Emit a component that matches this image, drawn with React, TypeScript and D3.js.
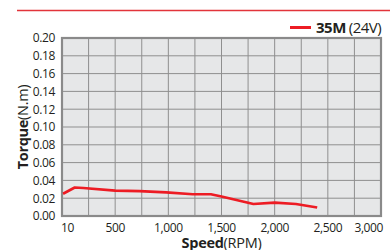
import * as d3 from 'd3'
import { useEffect, useRef } from 'react'

// speed (RPM) vs torque (N.m)
const speeds = [10, 120, 200, 500, 730, 980, 1230, 1400, 1500, 1800, 2000, 2200, 2400]
const torques = [0.025, 0.032, 0.0315, 0.0285, 0.028, 0.0265, 0.0245, 0.0245, 0.022, 0.0135, 0.015, 0.0135, 0.0095]
const xTicks = [10, 500, 1000, 1500, 2000, 2500, 3000]
const yTicks = [0, 0.02, 0.04, 0.06, 0.08, 0.1, 0.12, 0.14, 0.16, 0.18, 0.2]
const seriesName = '35M'
const seriesNote = '(24V)'

const width = 390, height = 250
const left = 62, right = 381, top = 38, bottom = 216
const font = '"Open Sans", sans-serif'

const chart = (node: SVGSVGElement) => {
  const svg = d3.select(node)
  svg.selectAll('*').remove()

  const x = d3.scaleLinear().domain([0, 3000]).range([left, right])
  const y = d3.scaleLinear().domain([0, 0.2]).range([bottom, top])

  // header rule
  svg.append('line')
    .attr('x1', 17).attr('x2', width).attr('y1', 10.5).attr('y2', 10.5)
    .attr('stroke', '#e2343b').attr('stroke-width', 1.5)

  // legend
  svg.append('line')
    .attr('x1', 290).attr('x2', 311).attr('y1', 27.5).attr('y2', 27.5)
    .attr('stroke', '#ed1c24').attr('stroke-width', 3)
  const lt = svg.append('text')
    .attr('x', 316).attr('y', 32.5)
    .attr('font-family', font).attr('font-size', 15).attr('fill', '#231f20')
    .attr('letter-spacing', -0.5)
  lt.append('tspan').attr('font-weight', 'bold').text(seriesName)
  lt.append('tspan').attr('dx', 3).text(seriesNote)

  // plot background
  svg.append('rect')
    .attr('x', left).attr('y', top)
    .attr('width', right - left).attr('height', bottom - top)
    .attr('fill', '#e6e7e8')

  const grid = svg.append('g').attr('stroke', '#8f8f8f').attr('stroke-width', 1)
  grid.selectAll('line.v')
    .data(d3.range(0, 3001, 250))
    .join('line')
    .attr('class', 'v')
    .attr('x1', d => x(d)).attr('x2', d => x(d))
    .attr('y1', top).attr('y2', bottom)
  grid.selectAll('line.h')
    .data(yTicks)
    .join('line')
    .attr('class', 'h')
    .attr('x1', left).attr('x2', right)
    .attr('y1', d => y(d)).attr('y2', d => y(d))

  svg.append('rect')
    .attr('x', left).attr('y', top)
    .attr('width', right - left).attr('height', bottom - top)
    .attr('fill', 'none').attr('stroke', '#8a8a8a').attr('stroke-width', 2.2)

  // series line
  const pts = speeds.map((s, i) => [s, torques[i]] as [number, number])
  svg.append('path')
    .datum(pts)
    .attr('fill', 'none')
    .attr('stroke', '#ed1c24')
    .attr('stroke-width', 2.6)
    .attr('stroke-linejoin', 'round')
    .attr('d', d3.line<[number, number]>().x(d => x(d[0])).y(d => y(d[1])))

  // y ticks
  svg.append('g')
    .attr('font-family', font).attr('font-size', 12).attr('fill', '#231f20')
    .attr('text-anchor', 'end').attr('letter-spacing', -0.4)
    .selectAll('text')
    .data(yTicks)
    .join('text')
    .attr('x', 55).attr('y', d => y(d)).attr('dy', '0.36em')
    .text(d => d3.format('.2f')(d))

  // x ticks
  svg.append('g')
    .attr('font-family', font).attr('font-size', 12).attr('fill', '#231f20')
    .attr('letter-spacing', -0.4)
    .selectAll('text')
    .data(xTicks)
    .join('text')
    .attr('x', (d, i) => i === 0 ? 61 : i === xTicks.length - 1 ? 383 : x(d))
    .attr('text-anchor', (d, i) => i === 0 ? 'start' : i === xTicks.length - 1 ? 'end' : 'middle')
    .attr('y', 231.5)
    .text(d => d3.format(',')(d))

  // axis titles
  const xt = svg.append('text')
    .attr('x', (left + right) / 2).attr('y', 248)
    .attr('text-anchor', 'middle')
    .attr('font-family', font).attr('font-size', 14.5).attr('fill', '#231f20')
    .attr('letter-spacing', -0.3)
  xt.append('tspan').attr('font-weight', 'bold').text('Speed')
  xt.append('tspan').text('(RPM)')

  const yt = svg.append('text')
    .attr('transform', `translate(28,${(top + bottom) / 2}) rotate(-90)`)
    .attr('text-anchor', 'middle')
    .attr('font-family', font).attr('font-size', 14.5).attr('fill', '#231f20')
    .attr('letter-spacing', -0.3)
  yt.append('tspan').attr('font-weight', 'bold').text('Torque')
  yt.append('tspan').text('(N.m)')
}

export default function App() {
  const ref = useRef<SVGSVGElement>(null)
  useEffect(() => {
    if (ref.current) chart(ref.current)
  }, [])
  return (
    <svg
      ref={ref}
      width={width}
      height={height}
      style={{ position: 'absolute', left: 0, top: 0, background: '#fff' }}
    />
  )
}
